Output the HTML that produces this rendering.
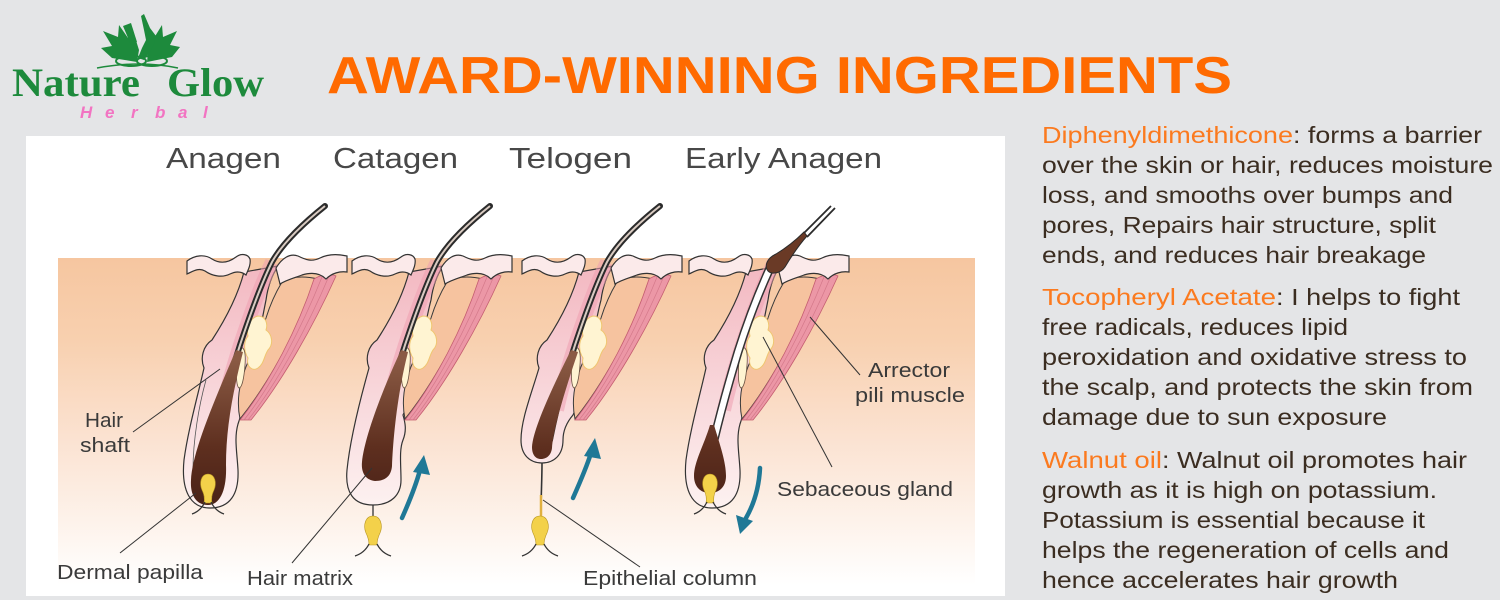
<!DOCTYPE html>
<html><head><meta charset="utf-8"><style>
html,body{margin:0;padding:0;background:#e4e5e7;}
body{width:1500px;height:600px;overflow:hidden;}
svg{display:block;}
text{font-family:"Liberation Sans",sans-serif;}
</style></head><body>
<svg width="1500" height="600" viewBox="0 0 1500 600" xmlns="http://www.w3.org/2000/svg">
<defs>
<linearGradient id="skin" x1="0" y1="258" x2="0" y2="585" gradientUnits="userSpaceOnUse">
<stop offset="0" stop-color="#f6c6a0"/><stop offset="0.25" stop-color="#f8d0af"/><stop offset="0.55" stop-color="#fbe2d1"/><stop offset="0.8" stop-color="#fdf2ea"/><stop offset="1" stop-color="#ffffff"/>
</linearGradient>
<linearGradient id="sh" x1="0" y1="270" x2="0" y2="510" gradientUnits="userSpaceOnUse">
<stop offset="0" stop-color="#f3b9c2"/><stop offset="0.5" stop-color="#f8d6da"/><stop offset="1" stop-color="#fdf2f1"/>
</linearGradient>
<linearGradient id="br" x1="0" y1="360" x2="0" y2="505" gradientUnits="userSpaceOnUse">
<stop offset="0" stop-color="#8a5a44"/><stop offset="0.6" stop-color="#5e2f1f"/><stop offset="1" stop-color="#4a2217"/>
</linearGradient>
<g id="top">
<path d="M282,282 C292,276 305,276 318,279 C298,328 270,382 240,419 C236,400 240,380 248,362 C256,345 262,330 266,318 C270,305 276,292 282,282 Z" fill="#f6c39f" stroke="#3a3a3a" stroke-width="1"/>
<path d="M258,316 C266,316 268,324 266,330 C272,334 274,344 268,350 C264,356 264,364 258,368 C252,372 246,366 248,358 C244,352 243,342 248,336 C246,328 250,318 258,316 Z" fill="#fff4d2" stroke="#efc670" stroke-width="1"/>
<path d="M240,348 C244,346 246,352 245,365 C244,378 242,388 239,388 C236,386 236,372 237,360 Z" fill="#fff4d2" stroke="#6a5040" stroke-width="0.8"/>
<path d="M314,279 C320,275 330,273 336,276 C314,325 282,382 251,420 L240,420 C270,382 298,328 314,279 Z" fill="#ec97a6" stroke="#c45d70" stroke-width="0.8"/>
<path d="M322,277 C302,327 274,382 244,420 M329,276 C308,326 278,382 248,420" fill="none" stroke="#d4798a" stroke-width="0.7"/>
<path d="M187,261 C195,255 205,254 212,259 C220,264 228,263 236,257 C241,253 248,254 250,259 C251,265 248,270 246,275 C241,271 236,271 230,274 C222,278 212,276 205,271 C198,267 192,272 187,274 Z" fill="#fbeaea" stroke="#333" stroke-width="1.2"/>
<path d="M276,268 C282,258 290,253 298,256 C306,260 312,262 320,258 C328,254 338,254 347,256 L347,272 C340,271 332,273 326,279 C320,273 312,272 302,275 C294,278 286,280 280,284 Z" fill="#fbeaea" stroke="#333" stroke-width="1.2"/>
</g>
<path id="sheathA" d="M244,272 C238,295 225,320 212,340 C203,346 200,358 204,368 C198,395 188,430 184,460 C181,490 190,508 210,508 C230,508 239,494 238,470 C237,452 234,438 238,424 C248,395 258,340 266,300 C268,285 272,275 278,266 Z"/>
<path id="glow" d="M272,262 C262,282 250,315 240,345 C232,370 226,392 222,410"/>
<path id="hairU" d="M325,206 C300,226 282,244 272,262 C262,282 250,315 240,345 C230,375 222,405 215,440"/>
</defs>

<rect x="0" y="0" width="1500" height="600" fill="#e4e5e7"/>

<!-- LOGO -->
<g fill="#1d8a3c">
<path d="M137,62 L112,58 L101,48 L112,46 L103,31 L118,37 L119,25 L128,38 L133,31 L139,50 Z"/>
<path d="M147,62 L172,57 L180,47 L170,45 L177,31 L163,37 L162,25 L154,38 L149,44 Z"/>
<path d="M141,16 L144,14 L150,28 L156,36 L154,44 L150,52 L144,60 L138,58 L142,48 L146,40 L144,30 Z"/>
<path d="M123,26 L131,23 L137,42 L131,45 Z"/>
</g>
<g fill="none" stroke="#1d8a3c" stroke-width="2">
<ellipse cx="131" cy="61" rx="15" ry="5"/>
<ellipse cx="152" cy="61" rx="15" ry="5"/>
<path d="M97,68 Q140,60 178,68" stroke-width="1.5"/>
</g>
<text x="12" y="96" font-weight="bold" font-size="40" fill="#1d8a3c" textLength="128" lengthAdjust="spacingAndGlyphs" style="font-family:'Liberation Serif',serif">Nature</text>
<text x="167" y="96" font-weight="bold" font-size="40" fill="#1d8a3c" textLength="97" lengthAdjust="spacingAndGlyphs" style="font-family:'Liberation Serif',serif">Glow</text>
<g font-size="17" font-weight="bold" font-style="italic" fill="#f274c2">
<text x="80" y="118">H</text><text x="105" y="118">e</text><text x="131" y="118">r</text><text x="155" y="118">b</text><text x="178" y="118">a</text><text x="203" y="118">l</text>
</g>

<!-- TITLE -->
<text x="327" y="93" font-size="52" font-weight="bold" fill="#ff6a00" textLength="905" lengthAdjust="spacingAndGlyphs">AWARD-WINNING INGREDIENTS</text>

<!-- RIGHT TEXT -->
<g font-size="23.5" fill="#3b2d21">
<text x="1042" y="143" fill="#fb7a1f" textLength="251" lengthAdjust="spacingAndGlyphs">Diphenyldimethicone</text>
<text x="1293" y="143" textLength="189" lengthAdjust="spacingAndGlyphs">: forms a barrier</text>
<text x="1042" y="173" textLength="451" lengthAdjust="spacingAndGlyphs">over the skin or hair, reduces moisture</text>
<text x="1042" y="203" textLength="411" lengthAdjust="spacingAndGlyphs">loss, and smooths over bumps and</text>
<text x="1042" y="233" textLength="394" lengthAdjust="spacingAndGlyphs">pores, Repairs hair structure, split</text>
<text x="1042" y="263" textLength="384" lengthAdjust="spacingAndGlyphs">ends, and reduces hair breakage</text>
<text x="1042" y="305" fill="#fb7a1f" textLength="234" lengthAdjust="spacingAndGlyphs">Tocopheryl Acetate</text>
<text x="1276" y="305" textLength="184" lengthAdjust="spacingAndGlyphs">: I helps to fight</text>
<text x="1042" y="335" textLength="306" lengthAdjust="spacingAndGlyphs">free radicals, reduces lipid</text>
<text x="1042" y="365" textLength="425" lengthAdjust="spacingAndGlyphs">peroxidation and oxidative stress to</text>
<text x="1042" y="395" textLength="431" lengthAdjust="spacingAndGlyphs">the scalp, and protects the skin from</text>
<text x="1042" y="425" textLength="345" lengthAdjust="spacingAndGlyphs">damage due to sun exposure</text>
<text x="1042" y="468" fill="#fb7a1f" textLength="120" lengthAdjust="spacingAndGlyphs">Walnut oil</text>
<text x="1162" y="468" textLength="305" lengthAdjust="spacingAndGlyphs">: Walnut oil promotes hair</text>
<text x="1042" y="498" textLength="395" lengthAdjust="spacingAndGlyphs">growth as it is high on potassium.</text>
<text x="1042" y="528" textLength="383" lengthAdjust="spacingAndGlyphs">Potassium is essential because it</text>
<text x="1042" y="558" textLength="407" lengthAdjust="spacingAndGlyphs">helps the regeneration of cells and</text>
<text x="1042" y="588" textLength="356" lengthAdjust="spacingAndGlyphs">hence accelerates hair growth</text>
</g>

<!-- DIAGRAM BOX -->
<rect x="26" y="136" width="979" height="460" fill="#ffffff"/>
<rect x="58" y="258" width="917" height="327" fill="url(#skin)"/>

<!-- stage labels -->
<g font-size="29" fill="#484848">
<text x="166" y="168" textLength="115" lengthAdjust="spacingAndGlyphs">Anagen</text>
<text x="333" y="168" textLength="125" lengthAdjust="spacingAndGlyphs">Catagen</text>
<text x="509" y="168" textLength="123" lengthAdjust="spacingAndGlyphs">Telogen</text>
<text x="685" y="168" textLength="197" lengthAdjust="spacingAndGlyphs">Early Anagen</text>
</g>

<!-- ANAGEN -->
<g>
<use href="#sheathA" fill="url(#sh)" stroke="#333" stroke-width="1.2"/>
<use href="#glow" fill="none" stroke="#ef9fb0" stroke-width="14" opacity="0.55"/>
<path d="M206,380 C199,405 193,440 193,470" fill="none" stroke="#555" stroke-width="0.8"/>
<use href="#top"/>
<use href="#hairU" fill="none" stroke="#2b2b2b" stroke-width="6" stroke-linecap="round"/>
<use href="#hairU" fill="none" stroke="#d9cbc2" stroke-width="2"/>
<path d="M236,350 L243,352 C232,395 226,430 226,465 C227,490 220,505 208,505 C196,505 190,495 191,480 C192,455 210,410 236,350 Z" fill="url(#br)"/>
<path d="M208,474 C215,474 217,483 214,490 C212,494 211,498 212,503 L204,503 C205,498 204,494 202,490 C199,483 201,474 208,474 Z" fill="#f3d14a" stroke="#b89520" stroke-width="0.6"/>
<path d="M205,502 C202,508 198,512 192,514 M211,502 C214,508 218,512 224,514" fill="none" stroke="#333" stroke-width="1.3"/>
</g>

<!-- CATAGEN -->
<g transform="translate(165,0)">
<path d="M244,272 C238,295 225,320 212,340 C203,346 200,358 204,368 C195,400 185,440 182,470 C180,492 188,505 208,505 C226,505 236,495 236,480 C236,465 234,450 238,440 C242,430 240,422 238,415 C250,390 258,330 266,300 C268,285 272,275 278,266 Z" fill="url(#sh)" stroke="#333" stroke-width="1.2"/>
<use href="#glow" fill="none" stroke="#ef9fb0" stroke-width="14" opacity="0.55"/>
<use href="#top"/>
<use href="#hairU" fill="none" stroke="#2b2b2b" stroke-width="6" stroke-linecap="round"/>
<use href="#hairU" fill="none" stroke="#d9cbc2" stroke-width="2"/>
<path d="M236,350 L243,352 C232,395 228,440 227,466 C226,478 218,481 210,481 C200,480 196,472 197,462 C199,440 215,395 236,350 Z" fill="url(#br)"/>
<path d="M208,505 L208,517" stroke="#333" stroke-width="1.3"/>
<path d="M208,516 C216,516 218,526 215,533 C213,537 212,540 212,545 L204,545 C204,540 203,537 201,533 C198,526 200,516 208,516 Z" fill="#f3d14a" stroke="#b89520" stroke-width="0.6"/>
<path d="M204,544 C201,550 196,554 190,556 M212,544 C215,550 220,554 226,556" fill="none" stroke="#333" stroke-width="1.3"/>
</g>

<!-- TELOGEN -->
<g transform="translate(335,0)">
<path d="M244,272 C238,295 225,320 212,340 C203,346 200,358 204,368 C196,395 186,420 186,440 C186,455 195,463 207,463 C219,463 228,455 228,440 C228,430 232,422 238,415 C250,390 258,330 266,300 C268,285 272,275 278,266 Z" fill="url(#sh)" stroke="#333" stroke-width="1.2"/>
<use href="#glow" fill="none" stroke="#ef9fb0" stroke-width="14" opacity="0.55"/>
<use href="#top"/>
<use href="#hairU" fill="none" stroke="#2b2b2b" stroke-width="6" stroke-linecap="round"/>
<use href="#hairU" fill="none" stroke="#d9cbc2" stroke-width="2"/>
<path d="M236,350 L243,352 C230,390 218,430 217,448 C216,456 211,459 206,459 C200,459 197,454 197,447 C198,430 215,392 236,350 Z" fill="url(#br)"/>
<path d="M207,463 C207,480 206,495 206,515" fill="none" stroke="#333" stroke-width="1.6"/>
<path d="M206,495 L206,516" stroke="#e0b040" stroke-width="2.5"/>
<path d="M205,516 C213,516 215,526 212,533 C210,537 209,540 209,545 L201,545 C201,540 200,537 198,533 C195,526 197,516 205,516 Z" fill="#f3d14a" stroke="#b89520" stroke-width="0.6"/>
<path d="M201,544 C198,550 193,554 187,556 M209,544 C212,550 217,554 223,556" fill="none" stroke="#333" stroke-width="1.3"/>
</g>

<!-- EARLY ANAGEN -->
<g transform="translate(502,0)">
<use href="#sheathA" fill="url(#sh)" stroke="#333" stroke-width="1.2"/>
<use href="#glow" fill="none" stroke="#ef9fb0" stroke-width="14" opacity="0.55"/>
<use href="#top"/>
<path d="M268,268 C258,290 246,320 236,352 C226,385 218,415 212,440" fill="none" stroke="#333" stroke-width="9"/>
<path d="M268,268 C258,290 246,320 236,352 C226,385 218,415 212,440" fill="none" stroke="#ffffff" stroke-width="6"/>
<path d="M212,425 C218,445 224,462 224,476 C224,488 216,493 208,493 C198,493 192,486 192,476 C192,462 202,445 208,425 Z" fill="url(#br)"/>
<path d="M208,474 C215,474 217,483 214,490 C212,494 211,498 212,503 L204,503 C205,498 204,494 202,490 C199,483 201,474 208,474 Z" fill="#f3d14a" stroke="#b89520" stroke-width="0.6"/>
<path d="M205,502 C202,508 198,512 192,514 M211,502 C214,508 218,512 224,514" fill="none" stroke="#333" stroke-width="1.3"/>
<path d="M329,206 L301,234 M333,208 L305,237" fill="none" stroke="#2b2b2b" stroke-width="1.8"/>
<path d="M302,232 C294,240 284,248 274,254 C265,258 262,266 266,271 C270,275 279,273 283,267 C289,257 297,245 305,236 Z" fill="#6a3a26" stroke="#2b2b2b" stroke-width="1"/>
</g>

<!-- arrows -->
<g fill="none" stroke="#1f7896" stroke-width="4.5" stroke-linecap="round">
<path d="M402,518 C410,500 416,485 420,470"/>
<path d="M573,498 C581,480 587,466 591,453"/>
<path d="M760,468 C759,488 754,504 746,518"/>
</g>
<g fill="#1f7896">
<path d="M424,455 L413,472 L430,475 Z"/>
<path d="M595,438 L584,456 L601,459 Z"/>
<path d="M740,534 L736,515 L753,521 Z"/>
</g>

<!-- leader lines -->
<g stroke="#333" stroke-width="1" fill="none">
<path d="M133,432 L220,369"/>
<path d="M120,553 L196,493"/>
<path d="M292,563 L372,468"/>
<path d="M640,567 L543,500"/>
<path d="M832,467 L763,337"/>
<path d="M860,375 L810,317"/>
</g>

<!-- labels -->
<g font-size="20" fill="#3a3a3a">
<text x="85" y="427" textLength="38" lengthAdjust="spacingAndGlyphs">Hair</text>
<text x="80" y="452" textLength="50" lengthAdjust="spacingAndGlyphs">shaft</text>
<text x="57" y="579" textLength="146" lengthAdjust="spacingAndGlyphs">Dermal papilla</text>
<text x="247" y="585" textLength="106" lengthAdjust="spacingAndGlyphs">Hair matrix</text>
<text x="583" y="585" textLength="174" lengthAdjust="spacingAndGlyphs">Epithelial column</text>
<text x="777" y="496" textLength="176" lengthAdjust="spacingAndGlyphs">Sebaceous gland</text>
<text x="868" y="377" textLength="82" lengthAdjust="spacingAndGlyphs">Arrector</text>
<text x="855" y="402" textLength="110" lengthAdjust="spacingAndGlyphs">pili muscle</text>
</g>
</svg>
</body></html>
